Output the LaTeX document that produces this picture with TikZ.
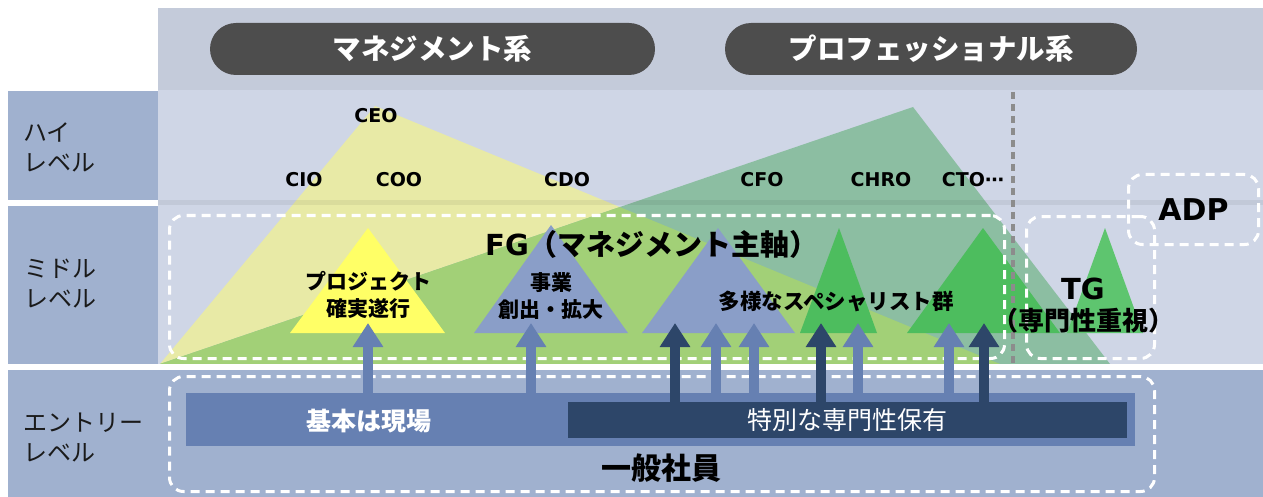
\documentclass[tikz,border=0pt]{standalone}
\usepackage{fontspec}
\newfontfamily\jp{Noto Sans CJK JP}
\newfontfamily\lat{DejaVu Sans}
\usetikzlibrary{arrows.meta}
\definecolor{cHdr}{HTML}{C4CBDA}
\definecolor{cCol}{HTML}{A0B1CF}
\definecolor{cMain}{HTML}{CFD6E6}
\definecolor{cPaleY}{HTML}{E8EAA6}
\definecolor{cTealG}{HTML}{8CBEA2}
\definecolor{cOver}{HTML}{A2D077}
\definecolor{cYel}{HTML}{FFFF66}
\definecolor{cBlueT}{HTML}{8A9EC8}
\definecolor{cGreenT}{HTML}{4DBD5E}
\definecolor{cGreenTG}{HTML}{5EC56F}
\definecolor{cPill}{HTML}{4D4D4D}
\definecolor{cBarL}{HTML}{6680B2}
\definecolor{cBarD}{HTML}{2D4669}
\definecolor{cGrayD}{HTML}{8C8C8C}
\definecolor{cTxt}{HTML}{1A1A1A}
\begin{document}
\begin{tikzpicture}[x=1pt,y=-1pt,
  pill/.style={fill=cPill, rounded corners=26pt, text=white, inner sep=0pt,
    minimum height=52pt, font=\jp\bfseries\fontsize{28.5}{33}\selectfont},
  lvl/.style={anchor=west, align=left, text=cTxt, inner sep=0pt,
    font=\jp\fontsize{24}{30}\selectfont},
  role/.style={text=black, inner sep=0pt, font=\lat\bfseries\fontsize{19}{22}\selectfont},
  tlabel/.style={text=black, align=center, inner sep=0pt,
    font=\jp\bfseries\fontsize{21}{27}\selectfont},
  dbox/.style={draw=white, line width=3pt, dash pattern=on 9pt off 6pt,
    rounded corners=14pt, inner sep=0pt, anchor=north west},
  bar/.style={inner sep=0pt, anchor=north west},
  larr/.style={draw=cBarL, line width=10pt, -{Triangle[length=24pt,width=29pt]}},
  darr/.style={draw=cBarD, line width=10pt, -{Triangle[length=24pt,width=29pt]}}
]
\useasboundingbox (0,0) rectangle (1263,497);
% backgrounds
\fill[white] (0,0) rectangle (1263,497);
\fill[cHdr] (158,8) rectangle (1263,90);
\fill[cCol] (8,91) rectangle (158,200);
\fill[cCol] (8,206) rectangle (158,364);
\fill[cCol] (8,370) rectangle (1263,497);
\fill[cMain] (158,90) rectangle (1263,364);
% big triangles
\fill[cPaleY] (160,364) -- (375,106) -- (1000,364) -- cycle;
\fill[cTealG] (160,364) -- (913,107) -- (1110,364) -- cycle;
\begin{scope}
  \clip (160,364) -- (375,106) -- (1000,364) -- cycle;
  \fill[cOver] (160,364) -- (913,107) -- (1110,364) -- cycle;
\end{scope}
\fill[black, opacity=0.06] (158,200) rectangle (1263,205);
% small triangles
\fill[cYel] (290,333) -- (368,228) -- (445,333) -- cycle;
\fill[cBlueT] (474,333) -- (551,225) -- (628,333) -- cycle;
\fill[cBlueT] (642,333) -- (718,228) -- (795,333) -- cycle;
\fill[cGreenT] (800,333) -- (839,228) -- (877,333) -- cycle;
\fill[cGreenT] (907,333) -- (983,228) -- (1060,333) -- cycle;
\fill[cGreenTG] (1067,333) -- (1105,228) -- (1143,333) -- cycle;
% divider
\draw[cGrayD, line width=4pt, dash pattern=on 7pt off 5pt] (1013,92) -- (1013,368);
\fill[white] (8,364) rectangle (1263,370);
% headers
\node[pill, minimum width=445pt] (pm) at (432.5,49) {マネジメント系};
\node[pill, minimum width=412pt] (pp) at (931,49) {プロフェッショナル系};
% level labels
\node[lvl] (lh) at (23,147) {ハイ\\レベル};
\node[lvl] (lm) at (24,284) {ミドル\\レベル};
\node[lvl] (le) at (23,437) {エントリー\\レベル};
% roles
\node[role] (ceo) at (376,116) {CEO};
\node[role] (cio) at (304,180) {CIO};
\node[role] (coo) at (399,180) {COO};
\node[role] (cdo) at (567,180) {CDO};
\node[role] (cfo) at (762,180) {CFO};
\node[role] (chro) at (881,180) {CHRO};
\node[role] (cto) at (973,180) {CTO⋯};
% dashed boxes
\node[dbox, minimum width=835pt, minimum height=143pt] (fgbox) at (168,214) {};
\node[dbox, minimum width=128pt, minimum height=142pt] (tgbox) at (1025,215) {};
\node[dbox, minimum width=130pt, minimum height=70pt, text=black,
  font=\lat\bfseries\fontsize{30}{34}\selectfont] (adp) at (1127,173) {ADP};
\node[dbox, minimum width=985pt, minimum height=115pt] (entbox) at (168,375) {};
% middle texts
\node[text=black, inner sep=0pt] (fg) at (652,244)
  {{\lat\bfseries\fontsize{29}{34}\selectfont FG}{\jp\bfseries\fontsize{29}{34}\selectfont （マネジメント主軸）}};
\node[tlabel] (proj) at (368,295) {プロジェクト\\確実遂行};
\node[tlabel] (biz) at (551,296) {事業\\創出・拡大};
\node[tlabel, font=\jp\bfseries\fontsize{21.5}{27}\selectfont] (spec) at (836,301) {多様なスペシャリスト群};
\node[text=black, inner sep=0pt, font=\lat\bfseries\fontsize{29}{34}\selectfont] (tg) at (1083,289) {TG};
\node[text=black, inner sep=0pt, font=\jp\bfseries\fontsize{26}{30}\selectfont] (tgsub) at (1083,321) {（専門性重視）};
% entry bars
\node[bar, fill=cBarL, minimum width=949pt, minimum height=53pt] (barL) at (186,393) {};
\node[text=white, inner sep=0pt, font=\jp\bfseries\fontsize{25}{30}\selectfont] (genba) at (369,421) {基本は現場};
\node[bar, fill=cBarD, minimum width=559pt, minimum height=36pt, text=white,
  font=\jp\fontsize{25}{30}\selectfont] (barD) at (568,402) {特別な専門性保有};
\node[text=black, inner sep=0pt, font=\jp\bfseries\fontsize{30}{34}\selectfont] (ippan) at (661,468) {一般社員};
% arrows
\coordinate (t1) at (368,323);
\coordinate (t2) at (531,323);
\coordinate (t3) at (675,323);
\coordinate (t4) at (716,323);
\coordinate (t5) at (754,323);
\coordinate (t6) at (821,323);
\coordinate (t7) at (858,323);
\coordinate (t8) at (949,323);
\coordinate (t9) at (984,323);
\draw[larr] (t1 |- barL.north) -- (t1);
\draw[larr] (t2 |- barL.north) -- (t2);
\draw[larr] (t4 |- barL.north) -- (t4);
\draw[larr] (t5 |- barL.north) -- (t5);
\draw[larr] (t7 |- barL.north) -- (t7);
\draw[larr] (t8 |- barL.north) -- (t8);
\draw[darr] (t3 |- barD.north) -- (t3);
\draw[darr] (t6 |- barD.north) -- (t6);
\draw[darr] (t9 |- barD.north) -- (t9);
\end{tikzpicture}
\end{document}
